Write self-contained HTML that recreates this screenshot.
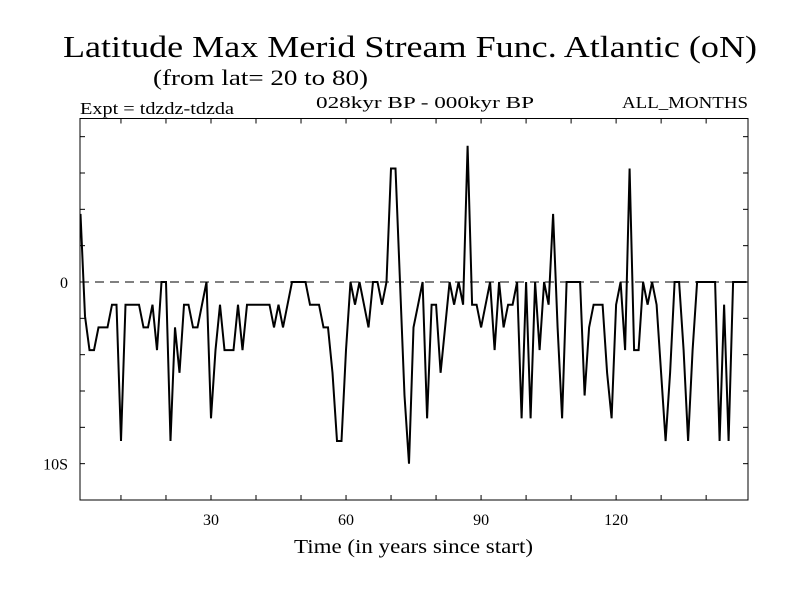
<!DOCTYPE html>
<html><head><meta charset="utf-8"><style>
html,body{margin:0;padding:0;background:#fff;}
svg{display:block;font-family:"Liberation Serif",serif;}
</style></head><body>
<svg id="chart" width="800" height="600" viewBox="0 0 800 600" xmlns="http://www.w3.org/2000/svg">
<rect width="800" height="600" fill="#fff"/>
<text x="63" y="57" font-size="31" textLength="694" lengthAdjust="spacingAndGlyphs">Latitude Max Merid Stream Func. Atlantic (oN)</text>
<text x="153" y="85" font-size="22" textLength="215" lengthAdjust="spacingAndGlyphs">(from lat= 20 to 80)</text>
<text x="80" y="114" font-size="17" textLength="154" lengthAdjust="spacingAndGlyphs">Expt = tdzdz-tdzda</text>
<text x="316" y="108" font-size="17" textLength="218" lengthAdjust="spacingAndGlyphs">028kyr BP - 000kyr BP</text>
<text x="622" y="108" font-size="17" textLength="126" lengthAdjust="spacingAndGlyphs">ALL_MONTHS</text>
<text x="294" y="553" font-size="20" textLength="239" lengthAdjust="spacingAndGlyphs">Time (in years since start)</text>
<g id="axes"></g>
<g id="series"></g>
</svg>
<script>
const yearValues = [3,-1.5,-3,-3,-2,-2,-2,-1,-1,-7,-1,-1,-1,-1,-2,-2,-1,-3,0,0,
-7,-2,-4,-1,-1,-2,-2,-1,0,-6,-3,-1,-3,-3,-3,-1,-3,-1,-1,-1,
-1,-1,-1,-2,-1,-2,-1,0,0,0,0,-1,-1,-1,-2,-2,-4,-7,-7,-3,
0,-1,0,-1,-2,0,0,-1,0,5,5,0,-5,-8,-2,-1,0,-6,-1,-1,
-4,-2,0,-1,0,-1,6,-1,-1,-2,-1,0,-3,0,-2,-1,-1,0,-6,0,
-6,0,-3,0,-1,3,-2,-6,0,0,0,0,-5,-2,-1,-1,-1,-4,-6,-1,
0,-3,5,-3,-3,0,-1,0,-1,-4,-7,-4,0,0,-3,-7,-3,0,0,0,
0,0,-7,-1,-7,0,0,0,0];
const stepUnits = [1.25];
const xTickValues = [10,20,30,40,50,60,70,80,90,100,110,120,130,140];
const xTickLabels = ["30","60","90","120"];
const xLabelValues = [30,60,90,120];
const yTickValues = [-12,-10,-8,-6,-4,-2,0,2,4,6,8];
const yLabelValues = [0,-10];
const yLabelTexts = ["0","10S"];

const L=80,R=748,T=118.5,B=500;
const xMin=0.9,xMax=149.3,yMin=-12,yMax=9;
const xs=v=>L+(v-xMin)/(xMax-xMin)*(R-L);
const ys=v=>B-(v-yMin)/(yMax-yMin)*(B-T);
const NS="http://www.w3.org/2000/svg";
const axes=document.getElementById('axes');
const series=document.getElementById('series');
function mk(tag,attrs,parent){const e=document.createElementNS(NS,tag);for(const k in attrs)e.setAttribute(k,attrs[k]);parent.appendChild(e);return e;}

const frame=mk('rect',{x:L,y:T,width:R-L,height:B-T,fill:'none',stroke:'#000','stroke-width':1},axes);



const zl=mk('line',{x1:L,x2:R,y1:ys(0),y2:ys(0),stroke:'#000','stroke-width':1,'stroke-dasharray':'9,6'},axes);



xTickValues.forEach(v=>{
  const x=xs(v);
  const t1=mk('line',{x1:x,x2:x,y1:B,y2:B-5,stroke:'#000'},axes);
  
  
  const t2=mk('line',{x1:x,x2:x,y1:T,y2:T+5,stroke:'#000'},axes);
  
  
});
xLabelValues.forEach((v,i)=>{
  const t=mk('text',{x:xs(v),y:525,'font-size':16,'text-anchor':'middle'},axes);
  t.textContent=xTickLabels[i];
  
  
});
yTickValues.forEach(v=>{
  const y=ys(v);
  const t1=mk('line',{x1:L,x2:L+5,y1:y,y2:y,stroke:'#000'},axes);
  
  
  const t2=mk('line',{x1:R,x2:R-5,y1:y,y2:y,stroke:'#000'},axes);
  
  
});
yLabelValues.forEach((v,i)=>{
  const t=mk('text',{x:68,y:ys(v)+6,'font-size':16,'text-anchor':'end'},axes);
  t.textContent=yLabelTexts[i];
  
  
});

const pts=yearValues.map((k,i)=>xs(i+1).toFixed(1)+','+ys(k*stepUnits[0]).toFixed(1)).join(' ');
const line=mk('polyline',{points:pts,fill:'none',stroke:'#000','stroke-width':2,'stroke-linejoin':'miter'},series);


</script>
</body></html>
